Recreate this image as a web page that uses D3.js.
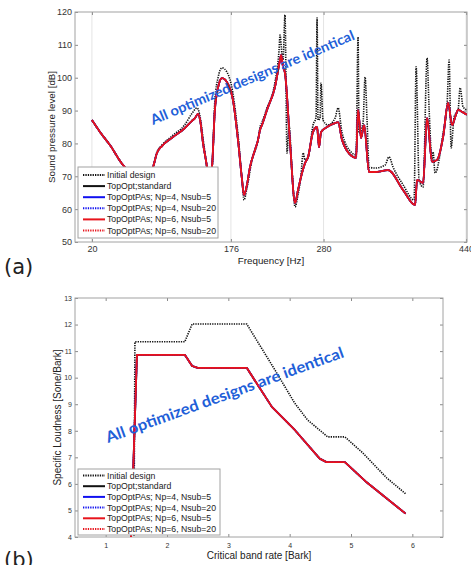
<!DOCTYPE html>
<html lang="en">
<head>
<meta charset="UTF-8">
<title>SPL and specific loudness</title>
<script src="https://cdn.jsdelivr.net/npm/d3@7"></script>
<style>
  body { margin: 0; background: #fff; }
  svg { display: block; }
</style>
</head>
<body>
<div class="chart"></div>
<script>
const width = 471
const height = 565
const font = '"Liberation Sans", Arial, sans-serif'

// (a) sound pressure level [dB] against frequency [Hz]
const splTicksX = [20, 176, 280, 440]
const splTicksY = [50, 60, 70, 80, 90, 100, 110, 120]
const initSpl = [
  [20, 87.1], [29, 83.5], [40.2, 79.5], [57, 72.8], [66, 71.3], [77, 69.5], [85, 71.3], [88.5, 72.8],
  [93, 77.4], [98.6, 79.5], [110, 82.3], [124, 85.6], [132, 89.0], [138, 90.8], [141, 88.7], [145, 81.0],
  [149, 72.8], [151.4, 67.4], [155, 72.8], [158, 93.2], [161.5, 99.9], [166, 103.0], [171.6, 101.7],
  [178, 95.7], [184, 82.6], [188.5, 68.9], [190.7, 62.8], [194, 66.4], [199.7, 75.0], [206.4, 81.0],
  [208.7, 85.0], [211, 86.5], [216.5, 90.8], [225.5, 98.7], [230, 108.4], [231.1, 113.0], [233.4, 106.9],
  [234.5, 105.4], [236.7, 119.1], [239, 77.1], [241.2, 85.6], [244.6, 71.9], [248, 60.7], [251.3, 64.3],
  [254.7, 70.4], [257, 77.1], [259.2, 75.0], [262.6, 75.6], [268.2, 85.6], [271.6, 88.0], [272.7, 118.2],
  [273.8, 87.1], [276, 87.7], [277.2, 98.4], [279.4, 87.1], [285, 85.6], [292.9, 87.7], [296.3, 90.8],
  [300.8, 83.2], [312, 77.1], [316.5, 76.5], [318.7, 112.4], [319.8, 83.2], [324.3, 86.2], [326.6, 100.2],
  [328.8, 87.1], [331.1, 72.8], [337.8, 72.5], [349, 73.4], [353.5, 75.9], [358, 72.8], [369.3, 67.4],
  [381.6, 62.8], [383.9, 103.3], [387.2, 68.9], [391.7, 66.7], [396.2, 106.0], [398.5, 90.2], [401.8, 75.0],
  [402.9, 77.4], [405.2, 71.0], [414.2, 83.2], [418.7, 92.3], [420.9, 105.4], [423.2, 78.6], [426.5, 88.0],
  [431, 90.2], [433.3, 96.9], [436.6, 91.1], [441, 90.2]
]
const optSpl = [
  [20, 87.1], [29, 83.5], [40.2, 79.5], [57, 72.8], [66, 71.3], [77, 69.5], [85, 71.3], [88.5, 72.8],
  [93, 77.1], [98.6, 79.2], [109.8, 81.7], [124.4, 84.7], [132, 86.8], [135.7, 87.7], [139, 89.0],
  [141.5, 87.0], [144.7, 80.1], [149.1, 72.8], [151.4, 67.4], [154.8, 72.8], [158, 90.2], [161.5, 96.9],
  [166, 99.9], [172.7, 98.1], [178.3, 93.2], [184, 81.0], [188.5, 68.9], [190.7, 64.3], [194, 67.4],
  [197.4, 72.8], [203, 78.0], [206.4, 81.0], [208.7, 84.1], [210.9, 85.6], [216.5, 90.2], [225.5, 97.2],
  [231.1, 105.4], [232.3, 106.9], [234.5, 103.3], [236.7, 101.4], [242.4, 80.1], [248, 61.9], [251.3, 65.8],
  [255.8, 71.0], [259.2, 74.0], [262.6, 75.9], [268.2, 83.5], [272.7, 85.0], [274.9, 78.9], [277.2, 83.5],
  [283.9, 85.0], [292.9, 86.2], [296.3, 86.5], [300.8, 81.0], [313.1, 75.9], [316.5, 75.6], [318.7, 90.2],
  [322.1, 81.7], [325.5, 85.6], [331.1, 71.3], [337.8, 71.3], [352.4, 71.9], [369.3, 65.8], [382.7, 61.3],
  [385, 68.9], [391.7, 68.0], [396.2, 87.7], [401.8, 74.4], [407.4, 75.0], [414.2, 82.0], [419.8, 92.3],
  [424.3, 85.6], [427.7, 88.0], [431.1, 90.2], [435.6, 89.6], [441, 88.7]
]

// (b) specific loudness [Sone/Bark] against critical band rate [Bark]
const barkTicksX = [1, 2, 3, 4, 5, 6]
const barkTicksY = [4, 5, 6, 7, 8, 9, 10, 11, 12, 13]
const initLoud = [
  [1.46, 3.5], [1.477, 11.35], [2.29, 11.35], [2.41, 12.02], [3.30, 12.02], [3.76, 10.29], [4.08, 9.05],
  [4.29, 8.41], [4.62, 7.77], [4.90, 7.77], [5.19, 7.17], [5.58, 6.23], [5.89, 5.63]
]
const optLoud = [
  [1.40, 3.0], [1.51, 10.86], [2.29, 10.86], [2.41, 10.44], [2.50, 10.37], [3.30, 10.37], [3.71, 8.90],
  [4.08, 8.04], [4.49, 6.95], [4.60, 6.82], [4.90, 6.82], [5.26, 6.05], [5.89, 4.88]
]

const legendNames = [
  'Initial design',
  'TopOpt;standard',
  'TopOptPAs; Np=4, Nsub=5',
  'TopOptPAs; Np=4, Nsub=20',
  'TopOptPAs; Np=6, Nsub=5',
  'TopOptPAs; Np=6, Nsub=20'
]
const note = 'All optimized designs are identical'

const red = '#e8141c'
const blue = '#1010f0'
const dots = '1.3,1.1'
const seriesStyle = [
  { color: '#111', dash: dots, w: 1.6 },
  { color: '#111', dash: null, w: 1.8 },
  { color: blue, dash: null, w: 1.8 },
  { color: blue, dash: dots, w: 1.6 },
  { color: red, dash: null, w: 1.8 },
  { color: red, dash: dots, w: 1.6 }
]

const svg = d3.select('.chart')
  .append('svg')
  .attr('width', width)
  .attr('height', height)
  .attr('font-family', font)

function styleAxis(sel, size) {
  sel.attr('font-family', font).attr('font-size', size)
  sel.select('.domain').remove()
  sel.selectAll('.tick line').attr('stroke', '#8a8a8a')
  sel.selectAll('.tick text').attr('fill', '#333')
}

function drawPanel(p) {
  const x = d3.scaleLinear().domain(p.xDomain).range(p.xRange)
  const y = d3.scaleLinear().domain(p.yDomain).range(p.yRange)
  const left = p.xRange[0], right = p.xRange[1]
  const top = p.yRange[1], bottom = p.yRange[0]
  const g = svg.append('g').attr('class', p.name)
  const fmt = d3.format('d')

  g.append('clipPath').attr('id', p.name + '-clip')
    .append('rect')
    .attr('x', left).attr('y', top)
    .attr('width', right - left).attr('height', bottom - top)

  if (p.grid) {
    g.append('g').selectAll('line')
      .data(p.xTicks)
      .join('line')
      .attr('x1', d => x(d)).attr('x2', d => x(d))
      .attr('y1', top).attr('y2', bottom)
      .attr('stroke', '#e4e4e4')
  }

  g.append('g')
    .attr('transform', `translate(0,${bottom})`)
    .call(d3.axisBottom(x).tickValues(p.xTicks).tickFormat(fmt).tickSizeInner(-3).tickSizeOuter(0).tickPadding(p.xPad))
    .call(styleAxis, p.tickFont)
  g.append('g')
    .attr('transform', `translate(0,${top})`)
    .call(d3.axisTop(x).tickValues(p.xTicks).tickSizeInner(-3).tickSizeOuter(0).tickFormat(''))
    .call(styleAxis, p.tickFont)
  g.append('g')
    .attr('transform', `translate(${left},0)`)
    .call(d3.axisLeft(y).tickValues(p.yTicks).tickFormat(fmt).tickSizeInner(-3).tickSizeOuter(0).tickPadding(p.yPad))
    .call(styleAxis, p.tickFont)
  g.append('g')
    .attr('transform', `translate(${right},0)`)
    .call(d3.axisRight(y).tickValues(p.yTicks).tickSizeInner(-3).tickSizeOuter(0).tickFormat(''))
    .call(styleAxis, p.tickFont)

  g.append('rect')
    .attr('x', left).attr('y', top)
    .attr('width', right - left).attr('height', bottom - top)
    .attr('fill', 'none')
    .attr('stroke', '#a2a2a2')

  const line = d3.line().x(d => x(d[0])).y(d => y(d[1])).curve(p.curve)
  const curves = seriesStyle.map((s, i) => ({ s, data: i === 0 ? p.initial : p.optimized }))
  g.append('g')
    .attr('clip-path', `url(#${p.name}-clip)`)
    .selectAll('path')
    .data(curves)
    .join('path')
    .attr('d', d => line(d.data))
    .attr('fill', 'none')
    .attr('stroke', d => d.s.color)
    .attr('stroke-width', d => d.s.w)
    .attr('stroke-dasharray', d => d.s.dash)
    .attr('stroke-linejoin', 'round')

  // axis titles
  g.append('text')
    .attr('x', (left + right) / 2)
    .attr('y', p.xLabelY)
    .attr('text-anchor', 'middle')
    .attr('font-size', p.labelFont)
    .attr('fill', '#222')
    .text(p.xLabel)
  g.append('text')
    .attr('transform', `translate(${p.yLabelX},${(top + bottom) / 2}) rotate(-90)`)
    .attr('text-anchor', 'middle')
    .attr('font-size', p.labelFont)
    .attr('fill', '#222')
    .text(p.yLabel)

  // legend
  const [lx, ly, lw, lh] = p.legend
  const lg = g.append('g').attr('transform', `translate(${lx},${ly})`)
  lg.append('rect')
    .attr('width', lw).attr('height', lh)
    .attr('fill', '#fff')
    .attr('stroke', '#a2a2a2')
  const rows = lg.selectAll('g.row')
    .data(legendNames)
    .join('g')
    .attr('class', 'row')
    .attr('transform', (d, i) => `translate(0,${p.legendFirst + i * p.legendStep})`)
  rows.append('line')
    .attr('x1', 5).attr('x2', 27)
    .attr('stroke', (d, i) => seriesStyle[i].color)
    .attr('stroke-width', 2)
    .attr('stroke-dasharray', (d, i) => seriesStyle[i].dash)
  rows.append('text')
    .attr('x', 29)
    .attr('dy', '0.35em')
    .attr('font-size', 8.7)
    .attr('fill', '#222')
    .text(d => d)

  // note across the curves
  g.append('text')
    .attr('transform', `translate(${p.note[0]},${p.note[1]}) rotate(${p.note[2]})`)
    .attr('font-family', 'Lato, "Open Sans", sans-serif')
    .attr('font-weight', 'bold')
    .attr('font-size', p.note[3])
    .attr('textLength', p.note[4])
    .attr('lengthAdjust', 'spacingAndGlyphs')
    .attr('fill', '#1f5fd8')
    .text(note)

  // panel letter
  g.append('text')
    .attr('x', 4)
    .attr('y', p.letterY)
    .attr('font-family', '"DejaVu Sans", sans-serif')
    .attr('font-size', 21)
    .attr('fill', '#222')
    .text(p.letter)
}

drawPanel({
  name: 'spl',
  xDomain: [1, 441], xRange: [75, 467],
  yDomain: [50, 120], yRange: [242, 12],
  xTicks: splTicksX, yTicks: splTicksY,
  grid: true, tickFont: 9, xPad: 4, yPad: 3, labelFont: 9.8,
  curve: d3.curveMonotoneX,
  initial: initSpl, optimized: optSpl,
  xLabel: 'Frequency [Hz]', xLabelY: 264,
  yLabel: 'Sound pressure level [dB]', yLabelX: 55,
  legend: [78, 167, 140, 71], legendFirst: 8, legendStep: 11.1,
  note: [153, 125, -23, 14, 220],
  letter: '(a)', letterY: 274
})

drawPanel({
  name: 'loud',
  xDomain: [0.5, 6.5], xRange: [75, 443],
  yDomain: [4, 13], yRange: [537, 298],
  xTicks: barkTicksX, yTicks: barkTicksY,
  grid: false, tickFont: 7, xPad: 6, yPad: 3, labelFont: 10,
  curve: d3.curveLinear,
  initial: initLoud, optimized: optLoud,
  xLabel: 'Critical band rate [Bark]', xLabelY: 559,
  yLabel: 'Specific Loudness [Sone/Bark]', yLabelX: 61,
  legend: [78, 469, 142, 66], legendFirst: 6.5, legendStep: 10.7,
  note: [108, 443, -20, 15.5, 252],
  letter: '(b)', letterY: 567
})
</script>
</body>
</html>
